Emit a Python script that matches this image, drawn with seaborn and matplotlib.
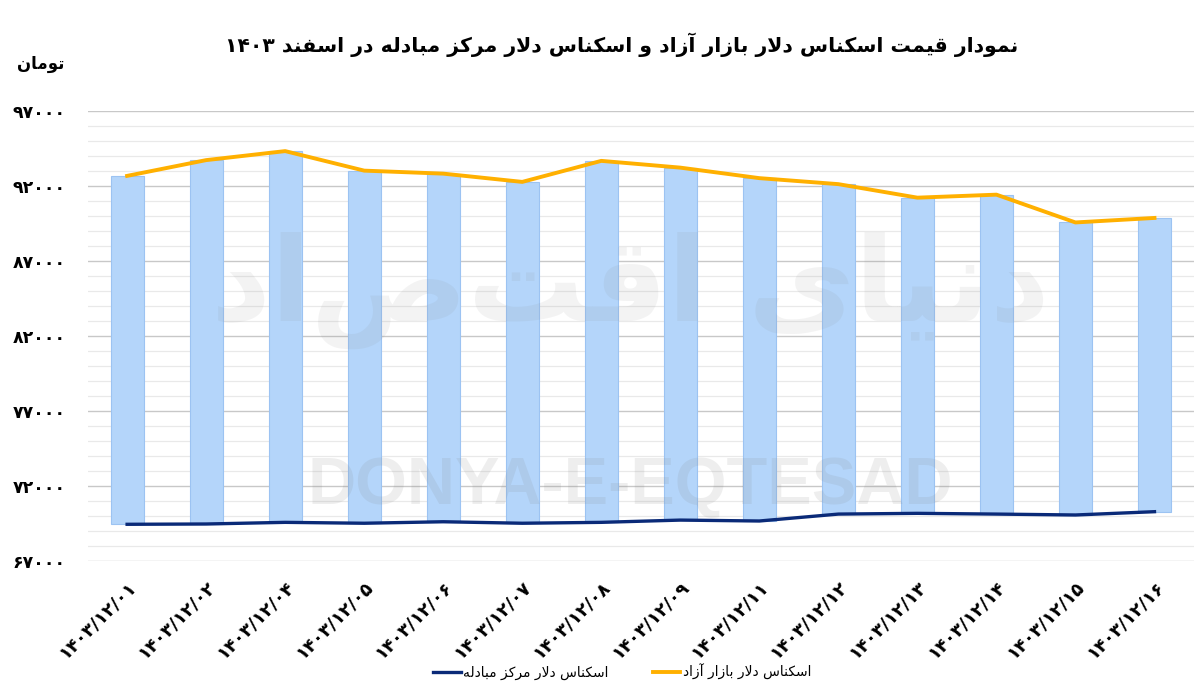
import re
import numpy as np
import pandas as pd
import matplotlib
matplotlib.use("Agg")
import matplotlib.pyplot as plt
from matplotlib.ticker import MultipleLocator, FixedLocator
import seaborn as sns

# داده‌ها (تومان)
dates = ['۱۴۰۳/۱۲/۰۱', '۱۴۰۳/۱۲/۰۲', '۱۴۰۳/۱۲/۰۴', '۱۴۰۳/۱۲/۰۵', '۱۴۰۳/۱۲/۰۶',
         '۱۴۰۳/۱۲/۰۷', '۱۴۰۳/۱۲/۰۸', '۱۴۰۳/۱۲/۰۹', '۱۴۰۳/۱۲/۱۱', '۱۴۰۳/۱۲/۱۲',
         '۱۴۰۳/۱۲/۱۳', '۱۴۰۳/۱۲/۱۴', '۱۴۰۳/۱۲/۱۵', '۱۴۰۳/۱۲/۱۶']
free_market = [92650, 93700, 94300, 93000, 92800, 92250, 93650,
               93200, 92500, 92100, 91200, 91400, 89550, 89850]
exchange_center = [69450, 69470, 69580, 69520, 69620, 69520, 69580,
                   69730, 69670, 70130, 70180, 70130, 70070, 70290]
y_ticks = [67000, 72000, 77000, 82000, 87000, 92000, 97000]

title = 'نمودار قیمت اسکناس دلار بازار آزاد و اسکناس دلار مرکز مبادله در اسفند ۱۴۰۳'
unit = 'تومان'
label_free = 'اسکناس دلار بازار آزاد'
label_center = 'اسکناس دلار مرکز مبادله'

# --- شکل‌دهی ساده حروف فارسی (matplotlib خودش این کار را نمی‌کند)
# (تنها، پایانی، آغازی، میانی)
FORMS = {
    'ا': ('\uFE8D', '\uFE8E', None, None),
    'آ': ('\uFE81', '\uFE82', None, None),
    'د': ('\uFEA9', '\uFEAA', None, None),
    'ر': ('\uFEAD', '\uFEAE', None, None),
    'ز': ('\uFEAF', '\uFEB0', None, None),
    'و': ('\uFEED', '\uFEEE', None, None),
    'ب': ('\uFE8F', '\uFE90', '\uFE91', '\uFE92'),
    'ت': ('\uFE95', '\uFE96', '\uFE97', '\uFE98'),
    'س': ('\uFEB1', '\uFEB2', '\uFEB3', '\uFEB4'),
    'ف': ('\uFED1', '\uFED2', '\uFED3', '\uFED4'),
    'ق': ('\uFED5', '\uFED6', '\uFED7', '\uFED8'),
    'ل': ('\uFEDD', '\uFEDE', '\uFEDF', '\uFEE0'),
    'م': ('\uFEE1', '\uFEE2', '\uFEE3', '\uFEE4'),
    'ن': ('\uFEE5', '\uFEE6', '\uFEE7', '\uFEE8'),
    'ه': ('\uFEE9', '\uFEEA', '\uFEEB', '\uFEEC'),
    'ک': ('\uFB8E', '\uFB8F', '\uFB90', '\uFB91'),
    'ی': ('\uFBFC', '\uFBFD', '\uFBFE', '\uFBFF'),
}
LAM_ALEF = {'ا': ('\uFEFB', '\uFEFC'), 'آ': ('\uFEF5', '\uFEF6')}


def fa(text):
    out = []
    i = 0
    n = len(text)
    while i < n:
        ch = text[i]
        if ch not in FORMS:
            out.append(ch)
            i += 1
            continue
        prev = text[i - 1] if i > 0 else ''
        joins_prev = prev in FORMS and FORMS[prev][2] is not None
        if ch == 'ل' and i + 1 < n and text[i + 1] in LAM_ALEF:
            lig = LAM_ALEF[text[i + 1]]
            out.append(lig[1] if joins_prev else lig[0])
            i += 2
            continue
        nxt = text[i + 1] if i + 1 < n else ''
        joins_next = FORMS[ch][2] is not None and nxt in FORMS
        iso, fin, ini, med = FORMS[ch]
        if joins_prev and joins_next:
            out.append(med)
        elif joins_prev:
            out.append(fin)
        elif joins_next:
            out.append(ini)
        else:
            out.append(iso)
        i += 1
    rev = ''.join(out)[::-1]
    return re.sub(r'[\u06F0-\u06F9]+', lambda m: m.group(0)[::-1], rev)


def fa_digits(v):
    return str(v).translate(str.maketrans('0123456789', '۰۱۲۳۴۵۶۷۸۹'))


plt.rcParams['font.family'] = ['DejaVu Sans']

fig = plt.figure(figsize=(12, 6.91), dpi=100)
ax = fig.add_axes([0.073, 0.188, 0.922, 0.652])

low = np.array(exchange_center)
high = np.array(free_market)

# میله‌های بالا-پایین بین دو سری
sns.barplot(x=dates, y=high - low, bottom=low, color='#B4D5FA', edgecolor='#9CC3F2',
            linewidth=0.8, width=0.42, saturation=1, ax=ax, zorder=2)

pos = np.arange(len(dates))
sns.lineplot(x=pos, y=exchange_center, color='#0A2A78', linewidth=2.4, ax=ax,
             label=fa(label_center), zorder=4)
sns.lineplot(x=pos, y=free_market, color='#FFB000', linewidth=2.8, ax=ax,
             label=fa(label_free), zorder=4)

ax.set_ylim(67000, 97000)
ax.set_xlim(-0.5, len(dates) - 0.5)
ax.yaxis.set_major_locator(FixedLocator(y_ticks))
ax.yaxis.set_minor_locator(MultipleLocator(1000))
ax.set_yticklabels([fa_digits(v) for v in y_ticks], fontsize=12.5, fontweight='bold')
ax.grid(axis='y', which='major', color='#C8C8C8', linewidth=1.0, zorder=0)
ax.grid(axis='y', which='minor', color='#E9E9E9', linewidth=0.9, zorder=0)
ax.set_axisbelow(True)
ax.tick_params(axis='both', which='both', length=0)
ax.tick_params(axis='y', pad=16)
ax.set_xticks(pos)
ax.set_xticklabels(dates, rotation=45, ha='right', rotation_mode='anchor',
                   fontsize=13, fontweight='bold')
ax.tick_params(axis='x', pad=12)
ax.set_xlabel('')
ax.set_ylabel('')
for s in ax.spines.values():
    s.set_visible(False)

ax.legend(loc='center', bbox_to_anchor=(0.483, -0.247), ncol=2, frameon=False,
          fontsize=10, handlelength=2.0, columnspacing=3.2, handletextpad=0.15)

# واترمارک
fig.text(0.525, 0.295, 'DONYA-E-EQTESAD', fontsize=48, fontweight='bold',
         family='Liberation Sans', color='#808080', alpha=0.13,
         ha='center', va='center', zorder=10)
fig.text(0.525, 0.58, fa('دنیای اقتصاد'), fontsize=84, fontweight='bold',
         color='#808080', alpha=0.09, ha='center', va='center', zorder=10)

fig.text(0.518, 0.935, fa(title), fontsize=14.7, fontweight='bold',
         ha='center', va='center')
fig.text(0.034, 0.908, fa(unit), fontsize=12, fontweight='bold',
         ha='center', va='center')

fig.savefig('out.png', dpi=100)
